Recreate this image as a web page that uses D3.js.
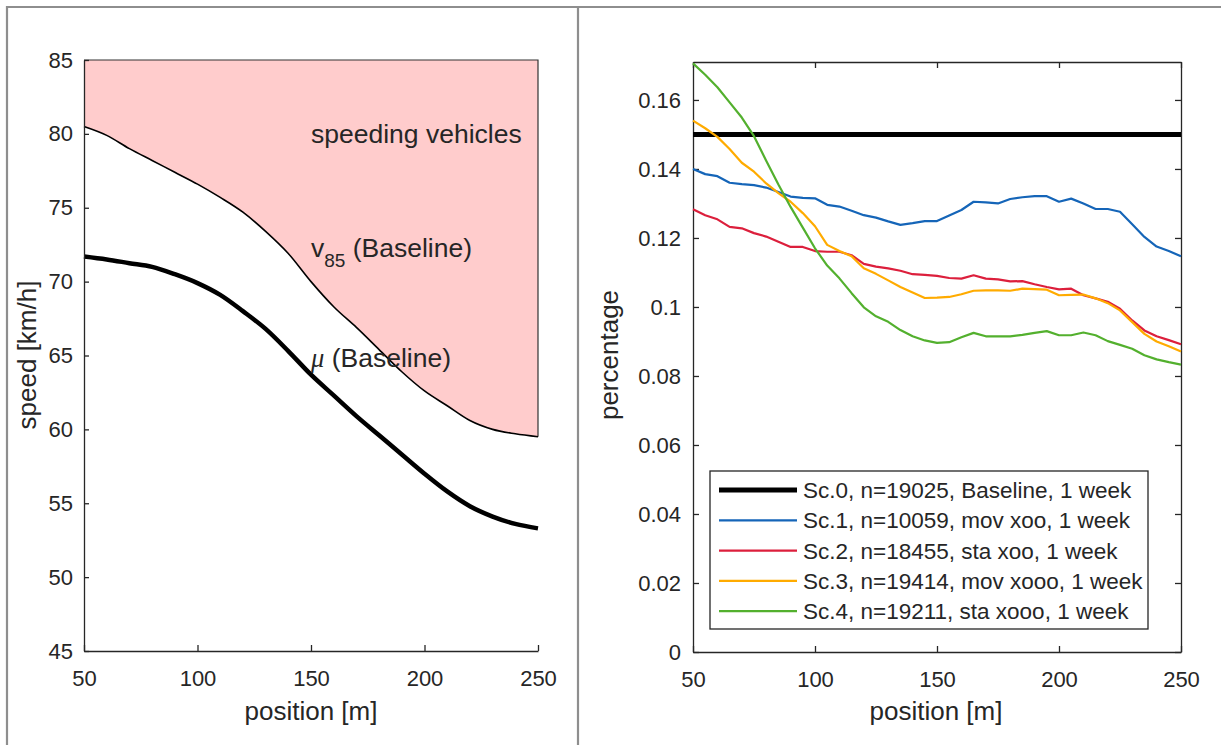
<!DOCTYPE html>
<html>

<head>
    <meta charset="utf-8">
    <title>speed and speeding share</title>
    <style>
        body { margin: 0; background: #fff; }
        text { font-family: "Liberation Sans", Arial, sans-serif; fill: #262626; }
    </style>
</head>

<body>
    <script src="https://d3js.org/d3.v7.min.js"></script>
    <script>
        // left panel: speed profiles (baseline)
        let posLeft = [50, 60, 70, 80, 90, 100, 110, 120, 130, 140, 150, 160, 170, 180, 190, 200, 210, 220, 230, 240, 250];
        let speedV85 = [80.5, 79.9, 79.0, 78.2, 77.4, 76.6, 75.7, 74.7, 73.4, 71.9, 70.0, 68.3, 66.9, 65.4, 63.9, 62.6, 61.6, 60.6, 60.0, 59.7, 59.5];
        let speedMu = [71.7, 71.5, 71.25, 71.0, 70.5, 69.9, 69.1, 68.0, 66.8, 65.3, 63.7, 62.3, 60.9, 59.6, 58.3, 57.0, 55.8, 54.8, 54.1, 53.6, 53.3];
        let speedTicks = [45, 50, 55, 60, 65, 70, 75, 80, 85];
        let posTicks = [50, 100, 150, 200, 250];

        // right panel: share of speeding vehicles per scenario
        let positions = [50, 55, 60, 65, 70, 75, 80, 85, 90, 95, 100, 105, 110, 115, 120, 125, 130, 135, 140, 145, 150,
            155, 160, 165, 170, 175, 180, 185, 190, 195, 200, 205, 210, 215, 220, 225, 230, 235, 240, 245, 250];
        let basePos = [50, 250];
        let sc0 = [0.15, 0.15];
        let sc1 = [0.1400, 0.1385, 0.1379, 0.1360, 0.1356, 0.1353, 0.1346, 0.1333, 0.1320, 0.1316, 0.1315,
            0.1296, 0.1291, 0.1279, 0.1266, 0.1259, 0.1248, 0.1238, 0.1243, 0.1249, 0.1249,
            0.1265, 0.1281, 0.1305, 0.1303, 0.1300, 0.1313, 0.1318, 0.1321, 0.1321, 0.1305,
            0.1314, 0.1300, 0.1284, 0.1284, 0.1276, 0.1240, 0.1203, 0.1175, 0.1162, 0.1147];
        let sc2 = [0.1283, 0.1266, 0.1254, 0.1232, 0.1228, 0.1214, 0.1204, 0.1189, 0.1174, 0.1174, 0.1162,
            0.1160, 0.1160, 0.1150, 0.1125, 0.1117, 0.1112, 0.1105, 0.1095, 0.1093, 0.1090,
            0.1084, 0.1082, 0.1092, 0.1082, 0.1080, 0.1074, 0.1075, 0.1066, 0.1058, 0.1051,
            0.1053, 0.1034, 0.1025, 0.1015, 0.0995, 0.0961, 0.0932, 0.0915, 0.0904, 0.0892];
        let sc3 = [0.1540, 0.1518, 0.1493, 0.1458, 0.1418, 0.1392, 0.1358, 0.1330, 0.1305, 0.1272, 0.1234,
            0.1180, 0.1162, 0.1147, 0.1112, 0.1096, 0.1077, 0.1058, 0.1042, 0.1026, 0.1027,
            0.1029, 0.1037, 0.1047, 0.1048, 0.1048, 0.1047, 0.1053, 0.1052, 0.1050, 0.1034,
            0.1035, 0.1036, 0.1025, 0.1011, 0.0990, 0.0956, 0.0922, 0.0900, 0.0886, 0.0871];
        let sc4 = [0.1706, 0.1673, 0.1637, 0.1593, 0.1549, 0.1495, 0.1424, 0.1355, 0.1290, 0.1230, 0.1170,
            0.1120, 0.1083, 0.1040, 0.0999, 0.0973, 0.0957, 0.0933, 0.0915, 0.0903, 0.0896,
            0.0898, 0.0912, 0.0925, 0.0915, 0.0915, 0.0915, 0.0919, 0.0925, 0.0930, 0.0918,
            0.0918, 0.0926, 0.0918, 0.0901, 0.0890, 0.0879, 0.0860, 0.0848, 0.0840, 0.0833];
        let shareTicks = [0, 0.02, 0.04, 0.06, 0.08, 0.1, 0.12, 0.14, 0.16];
        let legendLabels = ["Sc.0, n=19025, Baseline, 1 week", "Sc.1, n=10059, mov xoo, 1 week",
            "Sc.2, n=18455, sta xoo, 1 week", "Sc.3, n=19414, mov xooo, 1 week", "Sc.4, n=19211, sta xooo, 1 week"];

        let colors = ["#000000", "#1565b8", "#dc1f3c", "#ffab00", "#53b02e"];
        let widths = [5, 2.2, 2.2, 2.2, 2.2];
        let axisColor = "#262626";
        let tickFont = 22;

        let svg = d3.select("body").append("svg").attr("width", 1221).attr("height", 745);

        // outer frame
        svg.append("path")
            .attr("d", "M7,745 V7 H1221 M578,7 V745")
            .attr("fill", "none")
            .attr("stroke", "#8e8e8e")
            .attr("stroke-width", 2.2);

        function styleAxis(g, fontSize) {
            g.attr("font-family", null).attr("font-size", null);
            g.selectAll("path.domain").attr("stroke", axisColor).attr("stroke-width", 1.3);
            g.selectAll("line").attr("stroke", axisColor).attr("stroke-width", 1.3);
            g.selectAll("text").attr("fill", axisColor).style("font-size", fontSize + "px");
        }

        // ---------- left panel ----------
        let xL = d3.scaleLinear().domain([50, 250]).range([84, 538]);
        let yL = d3.scaleLinear().domain([45, 85]).range([651, 60]);
        let left = svg.append("g");

        let area = d3.area()
            .x(function(d, i) { return xL(posLeft[i]); })
            .y0(yL(85))
            .y1(function(d) { return yL(d); })
            .curve(d3.curveMonotoneX);
        left.append("path")
            .attr("d", area(speedV85))
            .attr("fill", "#ffcccc");
        // patch edge at top and right
        left.append("path")
            .attr("d", "M" + xL(50) + "," + yL(85) + " H" + xL(250) + " V" + yL(speedV85[speedV85.length - 1]))
            .attr("fill", "none")
            .attr("stroke", "#333")
            .attr("stroke-width", 1.2);

        let lineL = d3.line()
            .x(function(d, i) { return xL(posLeft[i]); })
            .y(function(d) { return yL(d); })
            .curve(d3.curveMonotoneX);
        left.append("path")
            .attr("d", lineL(speedV85))
            .attr("fill", "none")
            .attr("stroke", "#000")
            .attr("stroke-width", 1.6);
        left.append("path")
            .attr("d", lineL(speedMu))
            .attr("fill", "none")
            .attr("stroke", "#000")
            .attr("stroke-width", 4.5);

        left.append("g")
            .attr("transform", "translate(" + xL(50) + ",0)")
            .call(d3.axisLeft(yL).tickValues(speedTicks).tickSizeInner(-5).tickSizeOuter(0).tickPadding(11))
            .call(styleAxis, tickFont);
        left.append("g")
            .attr("transform", "translate(0," + yL(45) + ")")
            .call(d3.axisBottom(xL).tickValues(posTicks).tickSizeInner(-6).tickSizeOuter(0).tickPadding(19))
            .call(styleAxis, tickFont);

        left.append("text")
            .attr("transform", "translate(36,355) rotate(-90)")
            .attr("text-anchor", "middle")
            .style("font-size", "26px")
            .text("speed [km/h]");
        left.append("text")
            .attr("x", 311).attr("y", 720)
            .attr("text-anchor", "middle")
            .style("font-size", "26px")
            .text("position [m]");

        left.append("text")
            .attr("x", 311).attr("y", 143)
            .style("font-size", "26.5px")
            .text("speeding vehicles");
        let v85 = left.append("text").attr("x", 311).attr("y", 257).style("font-size", "26.5px");
        v85.append("tspan").text("v");
        v85.append("tspan").attr("dy", 10).style("font-size", "19px").text("85");
        v85.append("tspan").attr("dy", -10).text(" (Baseline)");
        let mu = left.append("text").attr("x", 311).attr("y", 367).style("font-size", "26.5px");
        mu.append("tspan").style("font-family", "'Liberation Serif', serif").style("font-style", "italic").text("\u03bc");
        mu.append("tspan").text(" (Baseline)");

        // ---------- right panel ----------
        let xR = d3.scaleLinear().domain([50, 250]).range([693, 1181]);
        let yR = d3.scaleLinear().domain([0, 0.171]).range([652, 62]);
        let right = svg.append("g");

        right.append("g")
            .attr("transform", "translate(" + xR(50) + ",0)")
            .call(d3.axisLeft(yR).tickValues(shareTicks).tickFormat(function(d) { return String(+d.toFixed(2)); })
                .tickSizeInner(-6).tickSizeOuter(0).tickPadding(12))
            .call(styleAxis, tickFont);
        right.append("g")
            .attr("transform", "translate(" + xR(250) + ",0)")
            .call(d3.axisRight(yR).tickValues(shareTicks).tickFormat("").tickSizeInner(-6).tickSizeOuter(0))
            .call(styleAxis, tickFont);
        right.append("g")
            .attr("transform", "translate(0," + yR(0) + ")")
            .call(d3.axisBottom(xR).tickValues(posTicks).tickSizeInner(-6).tickSizeOuter(0).tickPadding(19))
            .call(styleAxis, tickFont);
        right.append("g")
            .attr("transform", "translate(0," + yR(0.171) + ")")
            .call(d3.axisTop(xR).tickValues(posTicks).tickFormat("").tickSizeInner(-6).tickSizeOuter(0))
            .call(styleAxis, tickFont);

        let series = [sc0, sc1, sc2, sc3, sc4];
        series.forEach(function(vals, k) {
            let xs = k == 0 ? basePos : positions;
            let line = d3.line()
                .x(function(d, i) { return xR(xs[i]); })
                .y(function(d) { return yR(d); });
            right.append("path")
                .attr("d", line(vals))
                .attr("fill", "none")
                .attr("stroke", colors[k])
                .attr("stroke-width", widths[k])
                .attr("stroke-linejoin", "round");
        });

        right.append("text")
            .attr("transform", "translate(618,355) rotate(-90)")
            .attr("text-anchor", "middle")
            .style("font-size", "26px")
            .text("percentage");
        right.append("text")
            .attr("x", 936).attr("y", 720)
            .attr("text-anchor", "middle")
            .style("font-size", "26px")
            .text("position [m]");

        // legend
        let legend = right.append("g");
        legend.append("rect")
            .attr("x", 710).attr("y", 471)
            .attr("width", 438).attr("height", 158)
            .attr("fill", "#fff")
            .attr("stroke", axisColor)
            .attr("stroke-width", 1.3);
        legendLabels.forEach(function(label, k) {
            let cy = 490 + k * 30.3;
            legend.append("line")
                .attr("x1", 719).attr("x2", 797)
                .attr("y1", cy).attr("y2", cy)
                .attr("stroke", colors[k])
                .attr("stroke-width", widths[k]);
            legend.append("text")
                .attr("x", 803).attr("y", cy + 8)
                .style("font-size", "22.5px")
                .text(label);
        });
    </script>
</body>

</html>
